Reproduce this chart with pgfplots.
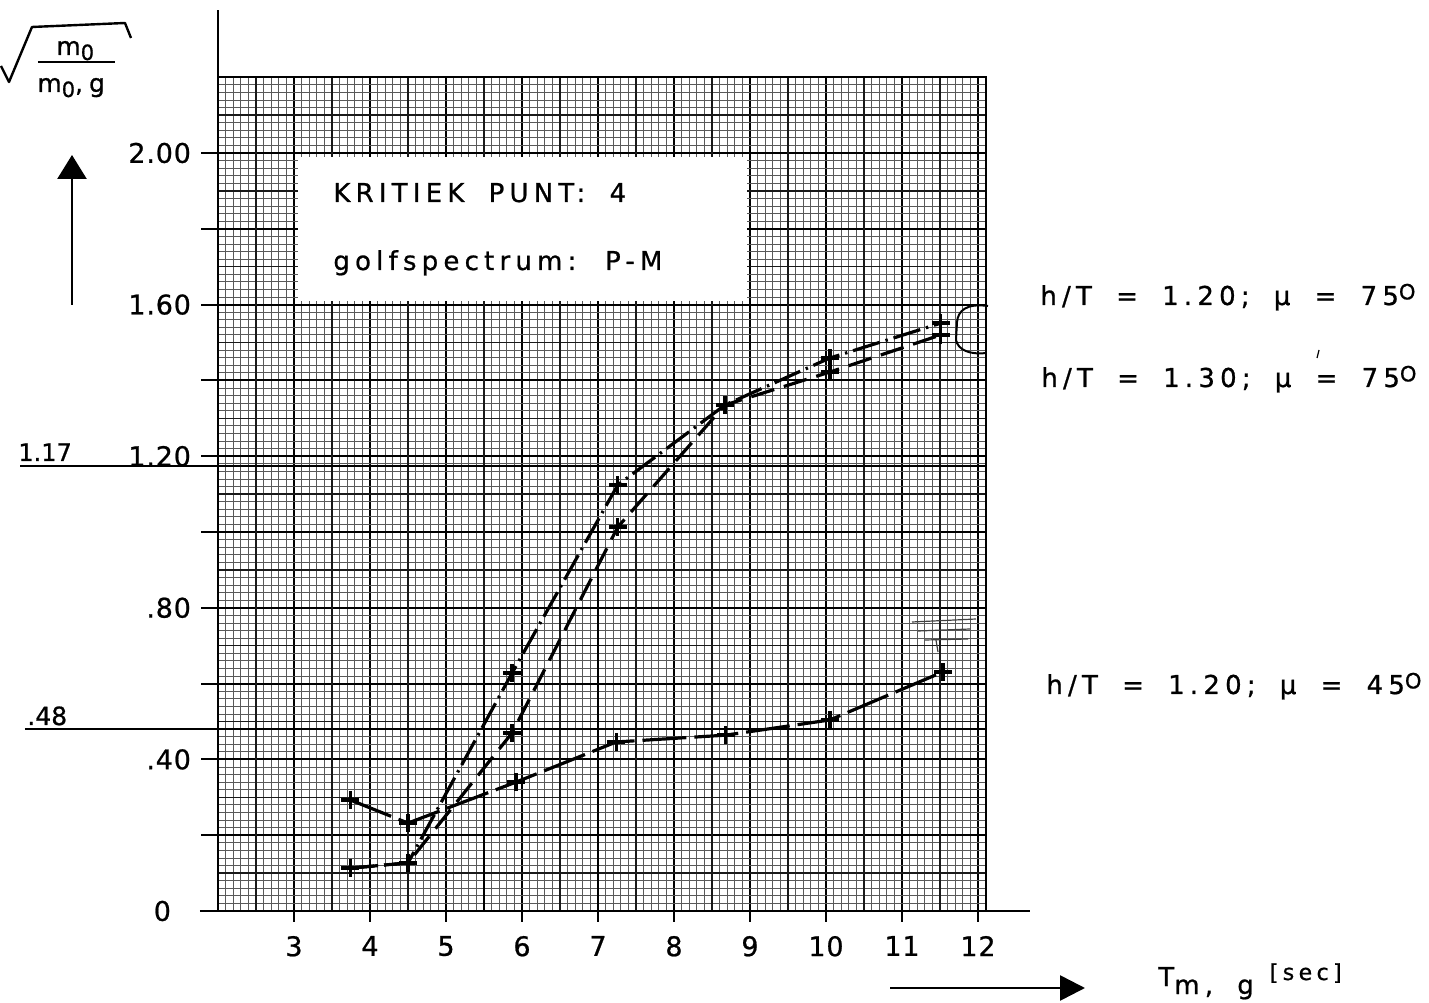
\documentclass[border=0pt]{standalone}
\usepackage{pgfplots}
\pgfplotsset{compat=1.18}
\usetikzlibrary{arrows.meta}
\usepackage{fontspec}
\setmainfont{DejaVu Sans}[FakeBold=0.8]
\newfontfamily\letteringfont{DejaVu Sans}[LetterSpace=20, WordSpace=1.8, FakeBold=0.8]
\newfontfamily\tickfont{DejaVu Sans}[LetterSpace=3, FakeBold=0.8]
\newcommand\lett{\letteringfont\fontsize{13}{15}\selectfont}
\newcommand\tickf{\tickfont\fontsize{13.5}{15}\selectfont}
\newcommand\plainf{\fontsize{12.5}{14}\selectfont}
\newcommand\supo{\raisebox{2.8pt}{\fontsize{10.5}{10}\selectfont O}}

\begin{document}
\begin{tikzpicture}
\begin{axis}[
  x=38pt, y=189.5pt,
  xmin=2, xmax=12.1, ymin=0, ymax=2.2,
  clip=false,
  axis line style={draw=none},
  tick pos=left,
  major tick length=0pt, minor tick length=0pt,
  xtick={3,4,5,6,7,8,9,10,11,12},
  xticklabels={3,4,5,6,7,8,9,10,11,12},
  ytick={0,0.2,0.4,0.6,0.8,1.0,1.2,1.4,1.6,1.8,2.0},
  yticklabels={0\rule{10pt}{0pt},{},.40,{},.80,{},1.20,{},1.60,{},2.00},
  minor xtick={2.1,2.2,...,12.05},
  minor ytick={0.02,0.04,...,2.19},
  extra x ticks={2.5,3.5,...,11.5},
  extra y ticks={0.1,0.3,...,2.1},
  extra x tick labels={}, extra y tick labels={},
  extra tick style={grid=major, major grid style={black!90, line width=0.7pt}},
  grid=both,
  major grid style={black, line width=1pt},
  minor grid style={black!65, line width=0.42pt},
  yticklabel style={font=\tickf, anchor=east, xshift=-10pt},
  xticklabel style={font=\tickf, anchor=north, yshift=-9pt},
]
% paper edge, axes and tick marks
\draw[line width=1pt] (axis cs:2,2.2) -- (axis cs:12.1,2.2) -- (axis cs:12.1,0);
\draw[line width=1.2pt] (axis cs:1.763,0) -- (axis cs:12.684,0);
\draw[line width=1.2pt] (axis cs:2,0) -- (axis cs:2,2.377);
\pgfplotsinvokeforeach{3,...,12}{\draw[line width=1pt] (axis cs:#1,0) -- (axis cs:#1,-0.029);}
\pgfplotsinvokeforeach{0,0.2,...,2.01}{\draw[line width=1pt] (axis cs:2,#1) -- (axis cs:1.776,#1);}

% reading lines
\draw[line width=1pt] (axis cs:-0.605,1.174) -- (axis cs:12.09,1.174);
\draw[line width=1pt] (axis cs:-0.54,0.48) -- (axis cs:12.09,0.48);
\draw[line width=1.3pt] (axis cs:5.5,0) -- (axis cs:5.5,0.66);
\draw[line width=1.3pt] (axis cs:7,0) -- (axis cs:7,1.0);

% h/T = 1.20; mu = 45
\addplot[black, line width=1.6pt, dash pattern=on 22pt off 4pt,
  mark=+, mark size=4.5pt, mark options={solid, line width=1.7pt}]
  coordinates {(3.74,0.293) (4.50,0.232) (5.92,0.340) (7.24,0.446)
               (8.68,0.464) (10.05,0.504) (11.54,0.631)};
% h/T = 1.20; mu = 75
\addplot[black, line width=1.6pt, dash pattern=on 14pt off 3pt on 1.2pt off 3pt,
  mark=+, mark size=4.5pt, mark options={solid, line width=1.7pt}]
  coordinates {(3.74,0.113) (4.50,0.127) (5.87,0.628) (7.26,1.124)
               (8.67,1.335) (10.05,1.459) (11.51,1.551)};
% h/T = 1.30; mu = 75
\addplot[black, line width=1.6pt, dash pattern=on 12pt off 5pt,
  mark=+, mark size=4.5pt, mark options={solid, line width=1.7pt}]
  coordinates {(3.74,0.113) (4.50,0.127) (5.87,0.470) (7.26,1.013)
               (8.67,1.335) (10.05,1.422) (11.51,1.520)};

\coordinate (TL) at (axis cs:-0.868421,2.403694);
\coordinate (BR) at (axis cs:17.934211,-0.240106);
\end{axis}

% annotations laid out on the sheet, 1 unit = 0.5pt, y pointing down
\begin{scope}[shift={(TL)}, x=0.5pt, y=-0.5pt]
  % title box on the graph paper
  \fill[white] (298,157) rectangle (747,301);
  \node[anchor=base west, inner sep=0, font=\lett] at (333,202) {KRITIEK PUNT: 4};
  \node[anchor=base west, inner sep=0, font=\lett] at (333,270) {golfspectrum: P-M};

  % ordinate quantity: square root of m0 / m0,g
  \draw[line width=1.2pt, line join=round] (1,66) -- (9,82) -- (32,27) -- (125,23) -- (131,38);
  \draw[line width=1.1pt] (38,62) -- (115,62);
  \node[anchor=base west, inner sep=0, font=\plainf] at (56,55) {m\raisebox{-2.5pt}{\fontsize{10.5}{10}\selectfont 0}};
  \node[anchor=base west, inner sep=0, font=\plainf] at (37,92) {m\raisebox{-2.5pt}{\fontsize{10.5}{10}\selectfont 0},\hspace{3pt}g};
  \draw[line width=1.3pt, -{Triangle[length=12pt,width=14.5pt]}] (72,305) -- (72,155);

  % abscissa quantity
  \draw[line width=1.3pt, -{Triangle[length=12.5pt,width=12.5pt]}] (890,988) -- (1085,988);
  \node[anchor=base west, inner sep=0, font=\lett] at (1158,986)
    {T\raisebox{-4pt}{m, g}\hspace{8pt}\raisebox{3pt}{\fontsize{11}{12}\selectfont [sec]}};

  % marked reading values
  \node[anchor=base west, inner sep=0, font=\fontsize{12}{12}\selectfont] at (18,461) {1.17};
  \node[anchor=base west, inner sep=0, font=\plainf] at (27,725) {.48};

  % curve labels
  \node[anchor=base west, inner sep=0, font=\lett] at (1040,305) {h/T = 1.20; μ = 75\supo};
  \node[anchor=base west, inner sep=0, font=\lett] at (1041,387) {h/T = 1.30; μ = 75\supo};
  \node[anchor=base west, inner sep=0, font=\lett] at (1046,694) {h/T = 1.20; μ = 45\supo};
  \draw[line width=0.6pt] (1319,350) -- (1317,358);

  % bracket joining the two upper curve ends
  \draw[line width=1pt] (988,306) .. controls (966,303) and (958,311) .. (957,322)
    -- (956,340) .. controls (958,350) and (970,355) .. (986,353);
  % pencil hatching near the lower curve end
  \draw[line width=0.6pt, black!75] (912,622) -- (976,619);
  \draw[line width=0.6pt, black!75] (918,631) -- (970,629);
  \draw[line width=0.6pt, black!75] (925,640) -- (968,639);
  \draw[line width=0.6pt, black!75] (936,640) -- (938,652);
\end{scope}

\pgfresetboundingbox
\path[use as bounding box] (TL) rectangle (BR);
\end{tikzpicture}
\end{document}
